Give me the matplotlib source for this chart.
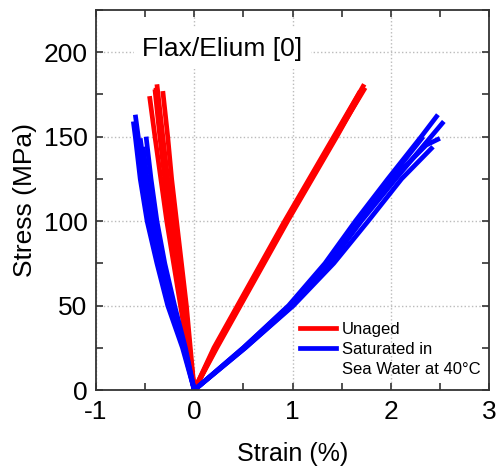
import matplotlib
matplotlib.use("Agg")
import matplotlib.pyplot as plt
from matplotlib.lines import Line2D
from matplotlib.ticker import MultipleLocator

plt.rcParams['font.family'] = ['Liberation Sans', 'DejaVu Sans']
plt.rcParams['axes.unicode_minus'] = False

# Unaged specimens: stress (MPa), longitudinal strain (%), transverse strain (%)
red_stress = [
    [0, 25, 50, 75, 100, 125, 150, 181],
    [0, 25, 50, 75, 100, 125, 150, 178],
    [0, 25, 50, 75, 100, 125, 150, 177],
    [0, 25, 50, 75, 100, 125, 150, 174],
    [0, 25, 50, 75, 100, 125, 150, 179],
]
red_long = [
    [0, 0.21, 0.45, 0.69, 0.93, 1.18, 1.43, 1.73],
    [0, 0.23, 0.47, 0.71, 0.95, 1.20, 1.45, 1.72],
    [0, 0.20, 0.44, 0.68, 0.92, 1.17, 1.42, 1.69],
    [0, 0.22, 0.46, 0.70, 0.94, 1.19, 1.44, 1.68],
    [0, 0.22, 0.46, 0.70, 0.94, 1.19, 1.44, 1.74],
]
red_trans = [
    [0, -0.05, -0.10, -0.16, -0.21, -0.27, -0.32, -0.38],
    [0, -0.06, -0.12, -0.18, -0.24, -0.30, -0.35, -0.40],
    [0, -0.04, -0.08, -0.13, -0.18, -0.23, -0.27, -0.32],
    [0, -0.07, -0.14, -0.21, -0.28, -0.34, -0.40, -0.455],
    [0, -0.05, -0.11, -0.17, -0.23, -0.29, -0.34, -0.39],
]

# Saturated in sea water at 40°C specimens
blue_stress = [
    [0, 25, 50, 75, 100, 125, 150, 163],
    [0, 25, 50, 75, 100, 125, 150, 159],
    [0, 25, 50, 75, 100, 125, 150],
    [0, 25, 50, 75, 100, 125, 144],
    [0, 25, 50, 75, 100, 125, 145, 149],
]
blue_long = [
    [0, 0.50, 0.96, 1.33, 1.64, 1.97, 2.31, 2.48],
    [0, 0.52, 1.00, 1.38, 1.70, 2.05, 2.41, 2.54],
    [0, 0.50, 0.97, 1.35, 1.66, 1.99, 2.33],
    [0, 0.52, 1.01, 1.42, 1.77, 2.11, 2.43],
    [0, 0.51, 0.98, 1.36, 1.68, 2.02, 2.36, 2.50],
]
blue_trans = [
    [0, -0.11, -0.25, -0.37, -0.47, -0.53, -0.57, -0.60],
    [0, -0.12, -0.27, -0.38, -0.48, -0.55, -0.60, -0.62],
    [0, -0.09, -0.20, -0.30, -0.38, -0.44, -0.49],
    [0, -0.10, -0.22, -0.33, -0.42, -0.48, -0.52],
    [0, -0.10, -0.23, -0.34, -0.44, -0.50, -0.54, -0.55],
]

RED = '#ff0000'
BLUE = '#0000ff'
LW = 3.4

fig = plt.figure(figsize=(4.98, 4.66), dpi=100)
ax = fig.add_axes([96/498, 76/466, 393/498, 380/466])

for s, l, t in zip(red_stress, red_long, red_trans):
    ax.plot(l, s, color=RED, lw=LW, solid_capstyle='butt')
    ax.plot(t, s, color=RED, lw=LW, solid_capstyle='butt')
for s, l, t in zip(blue_stress, blue_long, blue_trans):
    ax.plot(l, s, color=BLUE, lw=LW, solid_capstyle='butt')
    ax.plot(t, s, color=BLUE, lw=LW, solid_capstyle='butt')

ax.set_xlim(-1, 3)
ax.set_ylim(0, 225)
ax.xaxis.set_major_locator(MultipleLocator(1))
ax.xaxis.set_minor_locator(MultipleLocator(0.5))
ax.yaxis.set_major_locator(MultipleLocator(50))
ax.yaxis.set_minor_locator(MultipleLocator(25))
ax.set_yticks([0, 50, 100, 150, 200])

ax.grid(True, which='major', linestyle=':', color='#bbbbbb', lw=1.0)
ax.set_axisbelow(True)

ax.tick_params(which='both', direction='in', top=True, right=True,
               length=5, width=1.2, color='#333333', labelsize=19)
ax.tick_params(axis='x', pad=7)
ax.tick_params(axis='y', pad=6)
for sp in ax.spines.values():
    sp.set_linewidth(1.3)
    sp.set_color('#333333')

ax.set_xlabel('Strain (%)', fontsize=18, labelpad=13)
ax.set_ylabel('Stress (MPa)', fontsize=19, labelpad=5)

ax.text(-0.53, 202, 'Flax/Elium [0]', fontsize=19, ha='left', va='center',
        bbox=dict(facecolor='white', edgecolor='none', pad=6), zorder=3)

handles = [Line2D([], [], color=RED, lw=LW),
           Line2D([], [], color=BLUE, lw=LW),
           Line2D([], [], color='none', lw=0)]
labels = ['Unaged', 'Saturated in', 'Sea Water at 40°C']
ax.legend(handles, labels, loc='lower right', frameon=False, fontsize=12,
          handlelength=2.15, handletextpad=0.36, labelspacing=0.3,
          bbox_to_anchor=(1.0 + 5/393, 0.0), borderaxespad=0.4)

fig.savefig('out.png', dpi=100)
